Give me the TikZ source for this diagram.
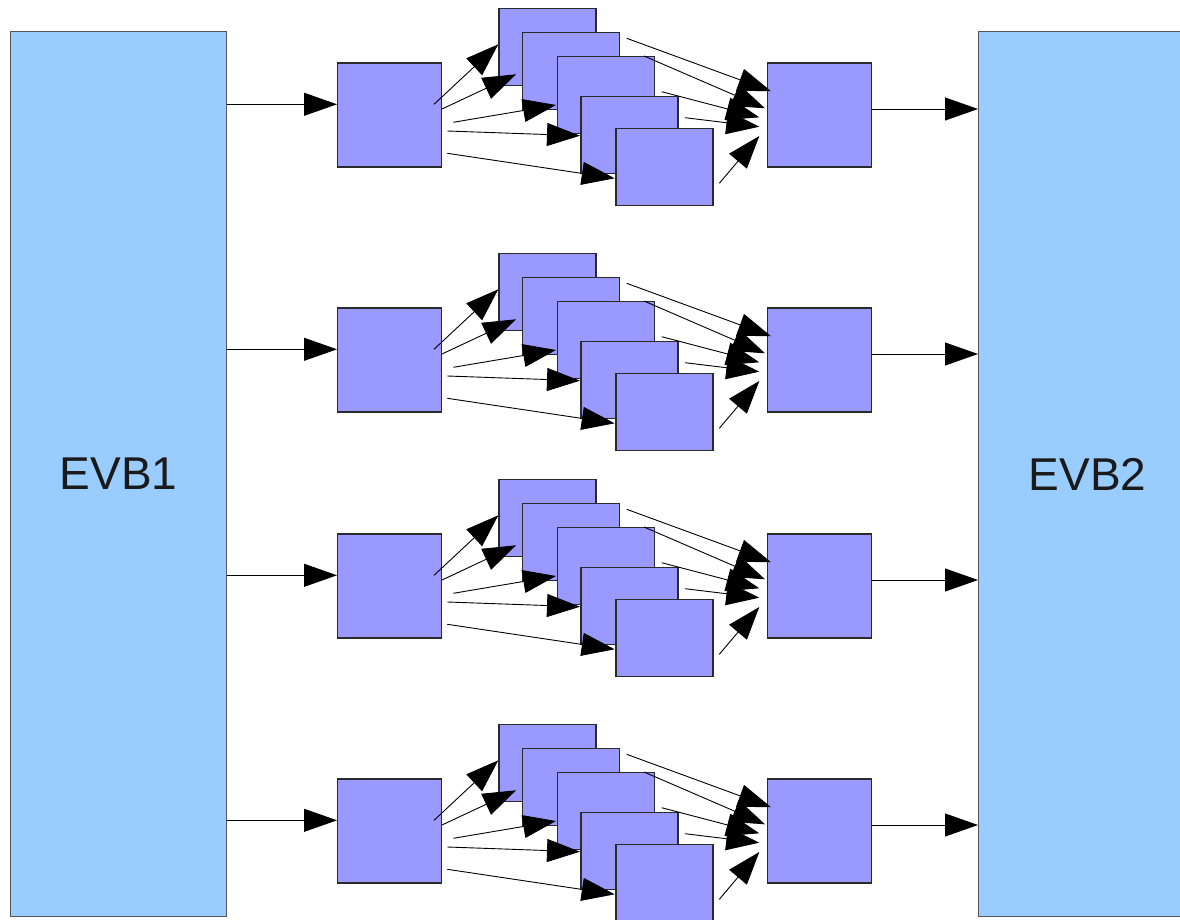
\documentclass[tikz,border=0pt]{standalone}
\usepackage{fontspec}
\setmainfont{Liberation Sans}
\usetikzlibrary{arrows.meta}
\definecolor{evbfill}{HTML}{99CCFF}
\definecolor{boxfill}{HTML}{9999FF}
\definecolor{edge}{HTML}{2A2A2A}
\definecolor{evbedge}{HTML}{555555}
\definecolor{ink}{HTML}{1A1A1A}
\tikzset{
  evb/.style={draw=evbedge, fill=evbfill, line width=1.3pt, inner sep=0pt,
    anchor=north west, text=ink, font=\fontsize{46}{56}\selectfont},
  stage/.style={draw=edge, fill=boxfill, line width=1.3pt, inner sep=0pt,
    anchor=north west, minimum width=104pt, minimum height=104pt},
  worker/.style={stage, minimum width=97pt, minimum height=77pt},
  flow/.style={line width=0.9pt, -{Triangle[length=33pt,width=23pt]}},
}
\begin{document}
\begin{tikzpicture}[x=1pt, y=-1pt]
\useasboundingbox (0,0) rectangle (1180,920);
\clip (0,0) rectangle (1180,920);

% the two event builders
\node[evb, minimum width=216pt, minimum height=885pt] (EVB1) at (10,31) {EVB1};
\node[evb, minimum width=218pt, minimum height=885pt] (EVB2) at (978,31) {EVB2};

% four identical processing chains
\foreach \g/\dy in {1/0,2/245,3/471,4/716}{
  \begin{scope}[yshift=-\dy pt]
    \node[stage]  (A\g)   at (337,62.3)   {};
    \node[worker] (B\g-1) at (498.3,7.7)  {};
    \node[worker] (B\g-2) at (521.7,31.7) {};
    \node[worker] (B\g-3) at (557,55.7)   {};
    \node[worker] (B\g-4) at (580.3,96)   {};
    \node[worker] (B\g-5) at (615.3,128)  {};
    \node[stage]  (C\g)   at (766.7,62.3) {};
    \coordinate (in\g)  at (0,104.3);
    \coordinate (out\g) at (0,109);
    % fan-out ends
    \coordinate (a\g-1) at (434,104.3);   \coordinate (b\g-1) at (498.3,44.3);
    \coordinate (a\g-2) at (442,109);     \coordinate (b\g-2) at (516,74.3);
    \coordinate (a\g-3) at (453.3,122.3); \coordinate (b\g-3) at (556,105);
    \coordinate (a\g-4) at (447.3,131);   \coordinate (b\g-4) at (580,135.7);
    \coordinate (a\g-5) at (447.3,153.3); \coordinate (b\g-5) at (614.7,178.3);
    % fan-in ends
    \coordinate (c\g-1) at (626.7,38.3);  \coordinate (d\g-1) at (771,91.2);
    \coordinate (c\g-2) at (644,56);      \coordinate (d\g-2) at (765,108.3);
    \coordinate (c\g-3) at (661.7,91.7);  \coordinate (d\g-3) at (759.3,117.3);
    \coordinate (c\g-4) at (685,117.7);   \coordinate (d\g-4) at (759.3,126.7);
    \coordinate (c\g-5) at (719.3,183.3); \coordinate (d\g-5) at (759.3,136);
  \end{scope}
  \draw[flow] (EVB1.east |- in\g) -- (A\g.west |- in\g);
  \draw[flow] (C\g.east |- out\g) -- (EVB2.west |- out\g);
  \foreach \k in {1,...,5}{
    \draw[flow] (a\g-\k) -- (b\g-\k);
    \draw[flow] (c\g-\k) -- (d\g-\k);
  }
}
\end{tikzpicture}
\end{document}
